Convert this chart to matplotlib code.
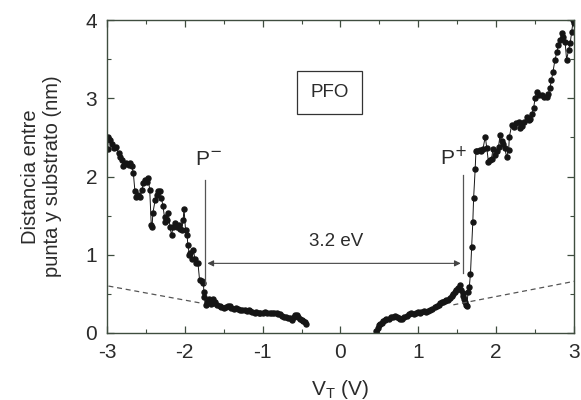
import matplotlib.pyplot as plt
from matplotlib.ticker import MultipleLocator

plt.rcParams['font.family'] = ['Liberation Sans', 'DejaVu Sans']
plt.rcParams['axes.unicode_minus'] = False

# left branch (negative tip bias)
x_neg = [-2.99, -2.98, -2.96, -2.94, -2.91, -2.88, -2.85, -2.83, -2.81, -2.79,
         -2.77, -2.75, -2.72, -2.70, -2.68, -2.66, -2.64, -2.62, -2.60, -2.57,
         -2.55, -2.53, -2.51, -2.49, -2.47, -2.45, -2.43, -2.42, -2.41, -2.38,
         -2.36, -2.34, -2.32, -2.30, -2.28, -2.26, -2.25, -2.23, -2.21, -2.19,
         -2.17, -2.15, -2.13, -2.10, -2.08, -2.06, -2.04, -2.02, -2.01, -1.99,
         -1.97, -1.96, -1.94, -1.93, -1.91, -1.89, -1.87, -1.85, -1.83, -1.81,
         -1.78, -1.76, -1.755, -1.75, -1.73, -1.71, -1.69, -1.68, -1.66, -1.64,
         -1.62, -1.61, -1.58, -1.55, -1.53, -1.50, -1.47, -1.44, -1.42, -1.40,
         -1.37, -1.34, -1.31, -1.29, -1.26, -1.23, -1.20, -1.18, -1.16, -1.13,
         -1.10, -1.08, -1.05, -1.03, -1.00, -0.97, -0.94, -0.91, -0.88, -0.85,
         -0.82, -0.80, -0.78, -0.75, -0.72, -0.70, -0.67, -0.65, -0.62, -0.60,
         -0.58, -0.56, -0.54, -0.52, -0.50, -0.48, -0.46, -0.44]
d_neg = [2.35, 2.51, 2.47, 2.42, 2.36, 2.38, 2.30, 2.25, 2.21, 2.13,
         2.16, 2.17, 2.15, 2.17, 2.13, 2.04, 1.81, 1.74, 1.76, 1.74,
         1.83, 1.92, 1.96, 1.93, 1.98, 1.83, 1.38, 1.35, 1.53, 1.70,
         1.76, 1.81, 1.81, 1.73, 1.62, 1.48, 1.42, 1.45, 1.53, 1.36,
         1.25, 1.35, 1.40, 1.36, 1.38, 1.33, 1.32, 1.45, 1.59, 1.32,
         1.25, 1.12, 1.00, 1.02, 0.95, 1.06, 0.95, 0.90, 0.89, 0.68,
         0.66, 0.64, 0.53, 0.46, 0.36, 0.40, 0.43, 0.42, 0.37, 0.43,
         0.38, 0.40, 0.36, 0.34, 0.33, 0.32, 0.33, 0.34, 0.345, 0.32,
         0.31, 0.32, 0.31, 0.30, 0.29, 0.30, 0.28, 0.29, 0.285, 0.27,
         0.26, 0.27, 0.26, 0.25, 0.26, 0.27, 0.26, 0.26, 0.25, 0.26,
         0.25, 0.24, 0.24, 0.22, 0.21, 0.20, 0.19, 0.19, 0.17, 0.21,
         0.23, 0.23, 0.20, 0.18, 0.17, 0.15, 0.14, 0.12]

# right branch (positive tip bias)
x_pos = [0.46, 0.48, 0.50, 0.51, 0.53, 0.55, 0.57, 0.59, 0.62, 0.65,
         0.68, 0.70, 0.72, 0.75, 0.77, 0.79, 0.82, 0.85, 0.88, 0.91,
         0.94, 0.97, 1.00, 1.02, 1.04, 1.07, 1.10, 1.13, 1.15, 1.18,
         1.21, 1.24, 1.26, 1.28, 1.30, 1.32, 1.34, 1.36, 1.385, 1.41,
         1.43, 1.45, 1.47, 1.49, 1.51, 1.535, 1.55, 1.57, 1.58, 1.59,
         1.60, 1.61, 1.62, 1.64, 1.655, 1.67, 1.685, 1.70, 1.71, 1.73,
         1.74, 1.76, 1.79, 1.81, 1.83, 1.86, 1.88, 1.90, 1.92, 1.94,
         1.96, 1.985, 2.01, 2.03, 2.05, 2.07, 2.09, 2.11, 2.135, 2.16,
         2.17, 2.20, 2.23, 2.26, 2.29, 2.31, 2.33, 2.36, 2.39, 2.42,
         2.435, 2.46, 2.48, 2.50, 2.52, 2.55, 2.585, 2.62, 2.65, 2.67,
         2.69, 2.71, 2.73, 2.755, 2.78, 2.80, 2.82, 2.84, 2.86, 2.885,
         2.905, 2.93, 2.95, 2.97, 2.99, 3.00]
d_pos = [0.02, 0.07, 0.10, 0.12, 0.13, 0.15, 0.16, 0.175, 0.18, 0.20,
         0.21, 0.22, 0.21, 0.19, 0.18, 0.175, 0.20, 0.22, 0.24, 0.25,
         0.24, 0.26, 0.27, 0.26, 0.27, 0.28, 0.27, 0.28, 0.29, 0.31,
         0.33, 0.35, 0.36, 0.38, 0.40, 0.39, 0.41, 0.42, 0.42, 0.45,
         0.47, 0.50, 0.53, 0.55, 0.58, 0.61, 0.55, 0.47, 0.51, 0.44,
         0.40, 0.36, 0.34, 0.52, 0.59, 0.76, 1.10, 1.42, 1.72, 2.09,
         2.32, 2.33, 2.34, 2.33, 2.35, 2.51, 2.36, 2.19, 2.21, 2.23,
         2.35, 2.27, 2.33, 2.38, 2.53, 2.45, 2.42, 2.36, 2.25, 2.34,
         2.51, 2.66, 2.63, 2.68, 2.70, 2.62, 2.64, 2.70, 2.76, 2.72,
         2.74, 2.80, 2.87, 3.00, 3.08, 3.04, 3.04, 3.02, 3.02, 3.05,
         3.13, 3.23, 3.34, 3.49, 3.59, 3.68, 3.74, 3.83, 3.78, 3.72,
         3.49, 3.62, 3.70, 3.85, 4.00, 3.96]

# baseline extrapolations (dashed)
base_neg_x = [-2.98, -1.78]
base_neg_y = [0.60, 0.38]
base_pos_x = [1.45, 3.0]
base_pos_y = [0.36, 0.66]

p_minus, p_plus = -1.74, 1.575
gap_label = '3.2 eV'

ink = '#2b2b2b'
frame = '#3f4d3f'

fig = plt.figure(figsize=(5.81, 4.0), dpi=100)
ax = fig.add_axes([0.184, 0.1675, 0.804, 0.7825])

ax.plot(x_neg, d_neg, '-o', color='#151515', lw=0.7, ms=3.6, mec='#151515')
ax.plot(x_pos, d_pos, '-o', color='#151515', lw=0.7, ms=3.6, mec='#151515')
ax.plot(base_neg_x, base_neg_y, '--', color='#555555', lw=0.9, dashes=(4, 3))
ax.plot(base_pos_x, base_pos_y, '--', color='#555555', lw=0.9, dashes=(4, 3))

# onset markers
ax.plot([p_minus, p_minus], [0.62, 1.95], color='#555555', lw=0.9)
ax.plot([p_plus, p_plus], [0.77, 2.02], color='#555555', lw=0.9)
ax.text(p_minus + 0.05, 2.1, 'P$^{-}$', fontsize=15, color=ink, ha='center', va='bottom')
ax.text(p_plus - 0.13, 2.1, 'P$^{+}$', fontsize=15, color=ink, ha='center', va='bottom')

ax.annotate('', xy=(p_plus - 0.03, 0.89), xytext=(p_minus + 0.03, 0.89),
            arrowprops=dict(arrowstyle='<|-|>', color='#444444', lw=0.8,
                            mutation_scale=9, shrinkA=0, shrinkB=0))
ax.text(-0.05, 1.06, gap_label, fontsize=13.5, color=ink, ha='center', va='bottom')

ax.text(-0.14, 3.07, 'PFO', fontsize=13.5, color=ink, ha='center', va='center',
        bbox=dict(boxstyle='square,pad=0.7', fc='white', ec='#333333', lw=0.9))

ax.set_xlim(-3, 3)
ax.set_ylim(0, 4)
ax.xaxis.set_major_locator(MultipleLocator(1))
ax.xaxis.set_minor_locator(MultipleLocator(0.5))
ax.yaxis.set_major_locator(MultipleLocator(1))
ax.yaxis.set_minor_locator(MultipleLocator(0.5))
ax.tick_params(which='both', direction='in', top=True, right=True,
               color=frame, labelsize=15, labelcolor=ink)
ax.tick_params(which='major', length=5, width=0.9)
ax.tick_params(which='minor', length=3, width=0.8)
ax.tick_params(axis='x', which='major', pad=7)
ax.tick_params(axis='y', which='major', pad=7)
for s in ax.spines.values():
    s.set_color(frame)
    s.set_linewidth(1.0)

ax.set_xlabel('V$_\\mathregular{T}$ (V)', fontsize=15, color=ink, labelpad=12)
ax.set_ylabel('Distancia entre\npunta y substrato (nm)', fontsize=14.5, color=ink,
              labelpad=17, linespacing=1.2)

fig.savefig('out.png', dpi=100)
